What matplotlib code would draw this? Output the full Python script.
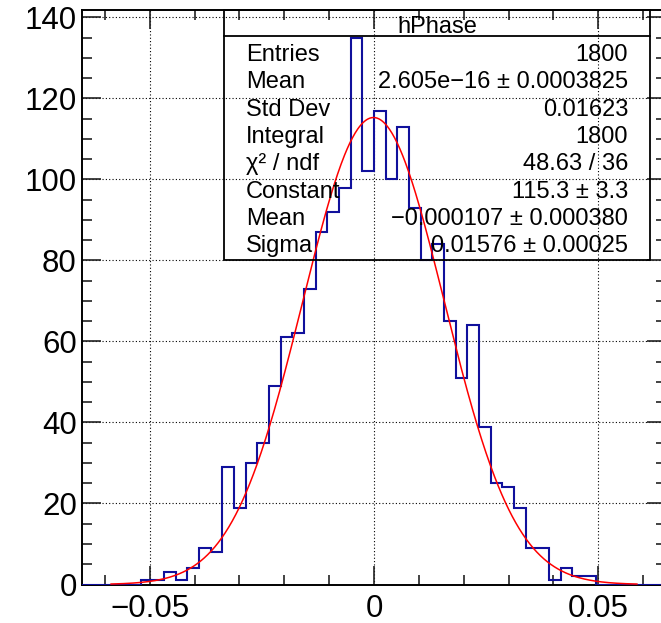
import numpy as np
import matplotlib
matplotlib.use('Agg')
from matplotlib import pyplot as plt
from matplotlib.patches import Rectangle
from matplotlib.lines import Line2D
from matplotlib.ticker import MultipleLocator, FixedLocator, FixedFormatter


# histogram hPhase: 50 bins on [-0.065, 0.065]
n_bins = 50
x_lo, x_hi = -0.065, 0.065
counts = [0, 0, 0, 0, 0,
          1, 1, 3, 1, 4,
          9, 8, 29, 19, 30,
          35, 49, 61, 62, 73,
          87, 92, 98, 135, 102,
          117, 100, 113, 93, 80,
          84, 65, 51, 64, 39,
          25, 24, 19, 9, 9,
          1, 4, 2, 2, 0,
          0, 0, 0, 0, 0]

# gaus fit result
fit_constant = 115.3
fit_mean = -0.000107
fit_sigma = 0.01576
fit_range = (-0.0586, 0.0586)

x_ticks = [-0.05, 0, 0.05]
x_tick_labels = ['\u22120.05', '0', '0.05']
y_ticks = [0, 20, 40, 60, 80, 100, 120, 140]

stat_title = 'hPhase'
stat_labels = ['Entries', 'Mean', 'Std Dev', 'Integral', '\u03c7\u00b2 / ndf',
               'Constant', 'Mean', 'Sigma']
stat_values = ['1800', '2.605e\u221216 \u00b1 0.0003825', '0.01623', '1800',
               '48.63 / 36', '115.3 \u00b1 3.3', '\u22120.000107 \u00b1 0.000380',
               '0.01576 \u00b1 0.00025']

W, H = 661, 623


def fx(px):
    return px / W


def fy(py):
    return 1 - py / H


def main():
    plt.rcParams['font.family'] = ['Liberation Sans', 'DejaVu Sans']

    fig = plt.figure(figsize=(W / 100, H / 100), dpi=100)
    ax = fig.add_axes([fx(82.4), fy(584.5), (665.6 - 82.4) / W, (584.5 - 10.4) / H])

    edges = np.linspace(x_lo, x_hi, n_bins + 1)
    ax.stairs(counts, edges, color='#10109c', lw=1.5, zorder=3)

    xf = np.linspace(fit_range[0], fit_range[1], 600)
    yf = fit_constant * np.exp(-0.5 * ((xf - fit_mean) / fit_sigma) ** 2)
    ax.plot(xf, yf, color='red', lw=1.1, zorder=4)

    ax.set_xlim(x_lo, x_hi)
    ax.set_ylim(0, 1.05 * max(counts))

    ax.xaxis.set_major_locator(FixedLocator(x_ticks))
    ax.xaxis.set_major_formatter(FixedFormatter(x_tick_labels))
    ax.xaxis.set_minor_locator(MultipleLocator(0.01))
    ax.yaxis.set_major_locator(FixedLocator(y_ticks))
    ax.yaxis.set_minor_locator(MultipleLocator(5))

    ax.tick_params(which='both', direction='in', top=True, right=True,
                   width=1.2, color='#222222')
    ax.tick_params(which='major', length=14, labelsize=22.5)
    ax.tick_params(which='minor', length=7)
    ax.tick_params(axis='x', which='major', pad=7)
    ax.tick_params(axis='y', which='major', pad=4)

    ax.grid(True, which='major', color='black', lw=0.8, linestyle=(0, (1, 2)))
    for s in ax.spines.values():
        s.set_linewidth(1.4)

    # stat box (transparent, drawn over the frame)
    box = Rectangle((fx(224), fy(260)), (650 - 224) / W, (260 - 10) / H,
                    transform=fig.transFigure, facecolor='none',
                    edgecolor='black', lw=1.3, zorder=5)
    fig.add_artist(box)
    fig.add_artist(Line2D([fx(224), fx(650)], [fy(36), fy(36)],
                          transform=fig.transFigure, color='black', lw=1.3, zorder=6))
    fig.text(fx(437), fy(33), stat_title, ha='center', va='baseline',
             fontsize=17, zorder=7)
    for i, (lab, val) in enumerate(zip(stat_labels, stat_values)):
        base = 60.7 + 27.4 * i
        fig.text(fx(246), fy(base), lab, ha='left', va='baseline', fontsize=17, zorder=7)
        fig.text(fx(628), fy(base), val, ha='right', va='baseline', fontsize=17, zorder=7)

    fig.savefig('out.png', dpi=100)


if __name__ == '__main__':
    main()
